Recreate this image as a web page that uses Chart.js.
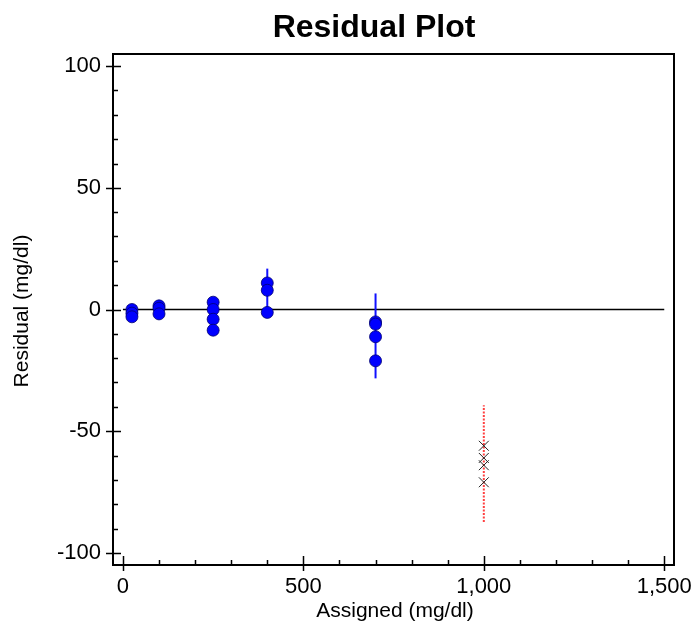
<!DOCTYPE html>
<html>
<head>
<meta charset="utf-8">
<script src="https://cdn.jsdelivr.net/npm/chart.js@4.4.0/dist/chart.umd.min.js"></script>
<style>
html,body{margin:0;padding:0;background:#fff;}
#wrap{width:695px;height:628px;position:relative;}
</style>
</head>
<body>
<div id="wrap"><canvas id="c" width="695" height="628"></canvas></div>
<script>
// ---- data ----
const titleText = "Residual Plot";
const xTitle = "Assigned (mg/dl)";
const yTitle = "Residual (mg/dl)";
const xTicks = [0, 500, 1000, 1500];
const yTicks = [-100, -50, 0, 50, 100];
const xMinor = [100, 200, 300, 400, 600, 700, 800, 900, 1100, 1200, 1300, 1400];
const yMinor = [-90, -80, -70, -60, -40, -30, -20, -10, 10, 20, 30, 40, 60, 70, 80, 90];

const levels = [25, 100, 250, 400, 700];
const residuals = [
  [0, -1.5, -3],
  [1.5, 0.5, -1.8],
  [3, 0, -4, -8.5],
  [10.9, 7.9, -1.2],
  [-5.1, -6, -11.2, -21.1]
];
const blueBarX = [400, 700];
const blueBarLow = [-3.5, -28.3];
const blueBarHigh = [16.8, 6.6];

const outlierX = 1000;
const outlierResiduals = [-56, -61, -64, -71];
const redBarLow = -87.3;
const redBarHigh = -39.3;

const zeroLineX = [0, 1500];

// ---- build datasets ----
const bluePts = [];
levels.forEach((x, i) => residuals[i].forEach(v => bluePts.push({x: x, y: v})));
const xPts = outlierResiduals.map(v => ({x: outlierX, y: v}));

const datasets = [];
datasets.push({
  type: 'line', data: zeroLineX.map(x => ({x: x, y: 0})),
  borderColor: '#000', borderWidth: 1.5, pointRadius: 0, order: 5
});
blueBarX.forEach((x, i) => {
  datasets.push({
    type: 'line', data: [{x: x, y: blueBarLow[i]}, {x: x, y: blueBarHigh[i]}],
    borderColor: '#1010ff', borderWidth: 2, pointRadius: 0, order: 4
  });
});
datasets.push({
  type: 'line', data: [{x: outlierX, y: redBarLow}, {x: outlierX, y: redBarHigh}],
  borderColor: '#ff4040', borderWidth: 2, borderDash: [2, 1.5], pointRadius: 0, order: 4
});
datasets.push({
  type: 'scatter', data: bluePts,
  pointRadius: 6, pointBackgroundColor: '#0000ff', pointBorderColor: '#000070',
  pointBorderWidth: 0.8, order: 1
});
datasets.push({
  type: 'scatter', data: xPts,
  pointStyle: 'crossRot', pointRadius: 7, pointBorderColor: '#222',
  pointBorderWidth: 1, order: 2
});

const FONT = "'Liberation Sans', Arial, sans-serif";

const decor = {
  id: 'decor',
  afterDraw(chart) {
    const ctx = chart.ctx, a = chart.chartArea;
    const xs = chart.scales.x, ys = chart.scales.y;
    ctx.save();
    // box
    ctx.strokeStyle = '#000'; ctx.lineWidth = 2;
    ctx.strokeRect(a.left, a.top, a.right - a.left, a.bottom - a.top);
    ctx.lineWidth = 1.5;
    ctx.beginPath();
    xTicks.forEach(v => { const p = Math.round(xs.getPixelForValue(v)) + 0.5; ctx.moveTo(p, a.bottom + 6); ctx.lineTo(p, a.bottom - 9); });
    xMinor.forEach(v => { const p = Math.round(xs.getPixelForValue(v)) + 0.5; ctx.moveTo(p, a.bottom); ctx.lineTo(p, a.bottom - 5); });
    yTicks.forEach(v => { const p = Math.round(ys.getPixelForValue(v)) + 0.5; ctx.moveTo(a.left - 7, p); ctx.lineTo(a.left + 8, p); });
    yMinor.forEach(v => { const p = Math.round(ys.getPixelForValue(v)) + 0.5; ctx.moveTo(a.left, p); ctx.lineTo(a.left + 5, p); });
    ctx.stroke();
    // title
    ctx.fillStyle = '#000';
    ctx.textAlign = 'center'; ctx.textBaseline = 'alphabetic';
    ctx.font = "bold 32px " + FONT;
    ctx.fillText(titleText, 374, 37);
    // axis titles
    ctx.font = "21px " + FONT;
    ctx.fillText(xTitle, 395, 617);
    ctx.translate(28, 311);
    ctx.rotate(-Math.PI / 2);
    ctx.fillText(yTitle, 0, 0);
    ctx.restore();
  }
};

new Chart(document.getElementById('c'), {
  type: 'scatter',
  data: { datasets: datasets },
  options: {
    responsive: false, animation: false, devicePixelRatio: 1,
    layout: { padding: { left: 0, right: 21, top: 54, bottom: 0 } },
    plugins: { legend: { display: false }, tooltip: { enabled: false }, title: { display: false } },
    scales: {
      x: {
        type: 'linear', min: -27.5, max: 1527,
        afterBuildTicks: s => { s.ticks = xTicks.map(v => ({value: v})); },
        afterFit: s => { s.height = 63; s.paddingLeft = 0; s.paddingRight = 0; },
        grid: { display: false, drawTicks: false },
        border: { display: false },
        ticks: {
          color: '#000', padding: 9, font: { family: FONT, size: 22 },
          maxRotation: 0, autoSkip: false,
          callback: v => v.toLocaleString('en-US')
        }
      },
      y: {
        type: 'linear', min: -105, max: 105,
        afterBuildTicks: s => { s.ticks = yTicks.map(v => ({value: v})); },
        afterFit: s => { s.width = 113; s.paddingTop = 0; s.paddingBottom = 0; },
        grid: { display: false, drawTicks: false },
        border: { display: false },
        ticks: {
          color: '#000', padding: 12, font: { family: FONT, size: 22 },
          autoSkip: false,
          callback: v => String(v)
        }
      }
    }
  },
  plugins: [decor]
});
</script>
</body>
</html>
